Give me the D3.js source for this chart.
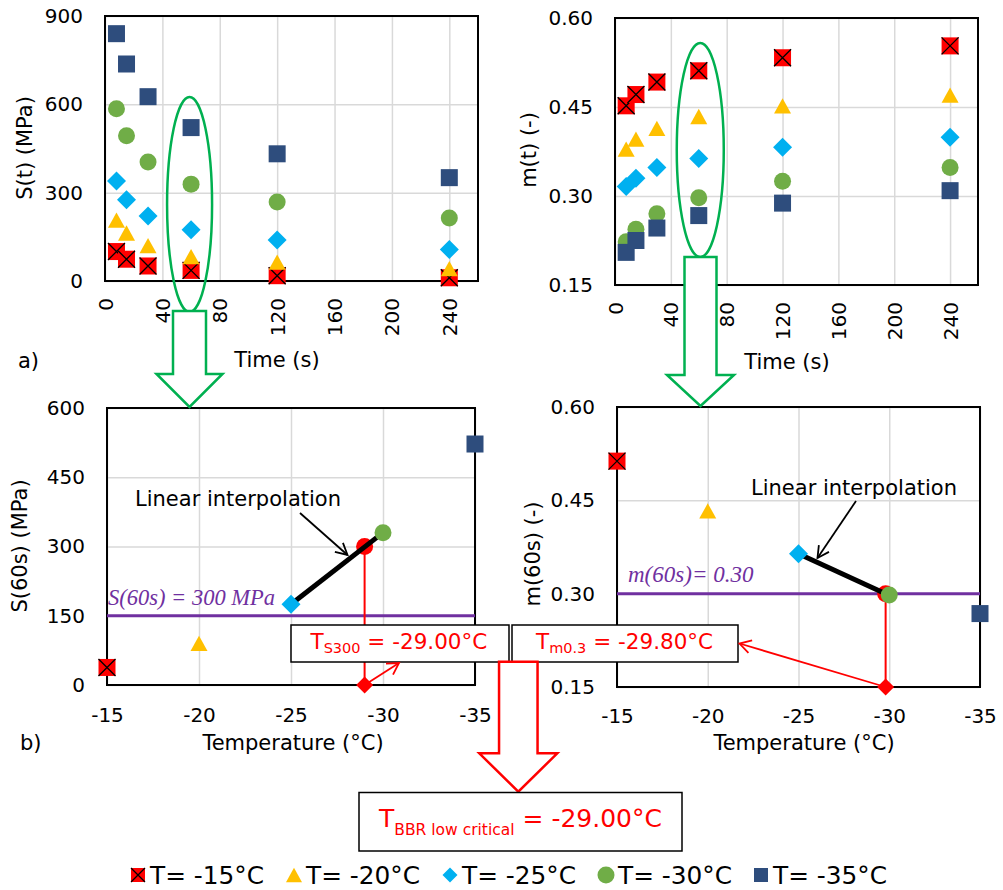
<!DOCTYPE html>
<html><head><meta charset="utf-8">
<script src="https://cdn.jsdelivr.net/npm/d3@7"></script>
<style>body{margin:0;background:#fff} svg{display:block}</style>
</head><body><svg id="c" width="1003" height="890" font-family="'DejaVu Sans',Verdana,sans-serif"></svg>
<script>
// ---------- data ----------
const times=[8,15,30,60,120,240];
const seriesNames=["T= -15°C","T= -20°C","T= -25°C","T= -30°C","T= -35°C"];
const temps=[-15,-20,-25,-30,-35];
const S_m15=[100,74,51,36,18,11];
const S_m20=[207,163,120,83,64,42];
const S_m25=[340,276,221,174,139,107];
const S_m30=[585,493,404,329,268,214];
const S_m35=[840,737,626,521,432,351];
const m_m15=[0.452,0.471,0.492,0.511,0.533,0.553];
const m_m20=[0.379,0.396,0.414,0.434,0.452,0.470];
const m_m25=[0.316,0.330,0.348,0.363,0.382,0.399];
const m_m30=[0.223,0.244,0.270,0.297,0.325,0.348];
const m_m35=[0.205,0.225,0.246,0.267,0.288,0.309];
const S60=[38,90,175,330,522];
const m60=[0.513,0.433,0.364,0.298,0.268];
const timeTicks=[0,40,80,120,160,200,240];
const sTicks=[0,300,600,900];
const mTicks=[0.15,0.30,0.45,0.60];
const s60Ticks=[0,150,300,450,600];
const tempTicks=[-15,-20,-25,-30,-35];
const TcritS=-29.00, TcritM=-29.80, Sref=300, SlineVal=150, mref=0.30;
const Sseries=[S_m15,S_m20,S_m25,S_m30,S_m35];
const mseries=[m_m15,m_m20,m_m25,m_m30,m_m35];
const types=["xsquare","triangle","diamond","circle","square"];
const colors=["#ff0000","#ffc000","#00b0f0","#70ad47","#2e4d7d"];

const svg=d3.select("#c");
const FONT="'DejaVu Sans',Verdana,sans-serif";
const SERIF="'Liberation Serif','DejaVu Serif',serif";
const intFmt=d=>String(d);            // hyphen-minus, as in the reference
const f2=d=>d.toFixed(2);

function marker(g,type,cx,cy,s,color){
  if(type==="square"||type==="xsquare"){
    g.append("rect").attr("x",cx-s/2).attr("y",cy-s/2).attr("width",s).attr("height",s).attr("fill",color);
    if(type==="xsquare"){
      g.append("path").attr("d",`M${cx-s/2},${cy-s/2}L${cx+s/2},${cy+s/2}M${cx+s/2},${cy-s/2}L${cx-s/2},${cy+s/2}`)
       .attr("stroke","#000").attr("stroke-width",1.3);
    }
  } else if(type==="triangle"){
    const h=s*0.9;
    g.append("path").attr("d",`M${cx},${cy-h/2}L${cx+s/2},${cy+h/2}L${cx-s/2},${cy+h/2}Z`).attr("fill",color);
  } else if(type==="diamond"){
    const d=s/2;
    g.append("path").attr("d",`M${cx},${cy-d}L${cx+d},${cy}L${cx},${cy+d}L${cx-d},${cy}Z`).attr("fill",color);
  } else {
    g.append("circle").attr("cx",cx).attr("cy",cy).attr("r",s/2).attr("fill",color);
  }
}
const msize={xsquare:17,square:17,triangle:17,diamond:19,circle:17};

function panel(o){
  const g=svg.append("g");
  const x=d3.scaleLinear().domain(o.xd).range([o.l,o.r]);
  const y=d3.scaleLinear().domain(o.yd).range([o.b,o.t]);
  g.append("g").attr("transform",`translate(0,${o.b})`)
    .call(d3.axisBottom(x).tickValues(o.xt).tickSize(-(o.b-o.t)).tickFormat(""))
    .call(a=>a.select(".domain").remove())
    .selectAll("line").attr("stroke","#d9d9d9").attr("stroke-width",1.5);
  g.append("g").attr("transform",`translate(${o.l},0)`)
    .call(d3.axisLeft(y).tickValues(o.yt).tickSize(-(o.r-o.l)).tickFormat(""))
    .call(a=>a.select(".domain").remove())
    .selectAll("line").attr("stroke","#d9d9d9").attr("stroke-width",1.5);
  g.append("rect").attr("x",o.l).attr("y",o.t).attr("width",o.r-o.l).attr("height",o.b-o.t)
    .attr("fill","none").attr("stroke","#000").attr("stroke-width",2);
  const ya=g.append("g").attr("transform",`translate(${o.l},0)`)
    .call(d3.axisLeft(y).tickValues(o.yt).tickSize(0).tickPadding(22).tickFormat(o.yf));
  ya.select(".domain").remove();
  ya.attr("font-family",FONT).attr("font-size",20);
  ya.selectAll("text").attr("fill","#000");
  const xa=g.append("g").attr("transform",`translate(0,${o.b})`)
    .call(d3.axisBottom(x).tickValues(o.xt).tickSize(0).tickFormat(o.xf));
  xa.select(".domain").remove();
  xa.attr("font-family",FONT).attr("font-size",20);
  xa.selectAll("text").attr("fill","#000");
  if(o.rot){
    xa.selectAll("text").attr("transform","rotate(-90)").attr("x",-17).attr("y",0).attr("dy","0.35em").attr("text-anchor","end");
  } else {
    xa.selectAll("text").attr("y",o.xlabY).attr("dy",0);
  }
  svg.append("text").attr("x",o.xtitle[0]).attr("y",o.xtitle[1]).attr("text-anchor","middle")
    .attr("font-size",21).text(o.xtitleText);
  svg.append("text").attr("transform",`translate(${o.ytitle[0]},${o.ytitle[1]}) rotate(-90)`)
    .attr("text-anchor","middle").attr("dy","0.35em").attr("font-size",21).text(o.ytitleText);
  return {g,x,y};
}

function arrowLine(x1,y1,x2,y2,color,w,hl=13,ang=28){
  const a=Math.atan2(y2-y1,x2-x1), r=ang*Math.PI/180;
  svg.append("path").attr("d",`M${x1},${y1}L${x2},${y2}`).attr("stroke",color).attr("stroke-width",w).attr("fill","none");
  svg.append("path").attr("d",`M${x2-hl*Math.cos(a-r)},${y2-hl*Math.sin(a-r)}L${x2},${y2}L${x2-hl*Math.cos(a+r)},${y2-hl*Math.sin(a+r)}`)
    .attr("stroke",color).attr("stroke-width",w).attr("fill","none");
}
function blockArrow(cx,top,sw,headY,hw,tip,color){
  const p=[[cx-sw/2,top],[cx+sw/2,top],[cx+sw/2,headY],[cx+hw/2,headY],[cx,tip],[cx-hw/2,headY],[cx-sw/2,headY]];
  svg.append("path").attr("d","M"+p.map(d=>d.join(",")).join("L")+"Z")
    .attr("fill","#fff").attr("stroke",color).attr("stroke-width",2.5).attr("stroke-linejoin","miter");
}

// ---------- top-left ----------
const TL=panel({l:105,r:478,t:16,b:281,xd:[0,260],yd:[0,900],xt:timeTicks,yt:sTicks,xf:intFmt,yf:intFmt,rot:true,
  xtitle:[277,367],xtitleText:"Time (s)",ytitle:[25,148],ytitleText:"S(t)  (MPa)"});
Sseries.forEach((s,i)=>s.forEach((v,j)=>marker(TL.g,types[i],TL.x(times[j]),TL.y(v),msize[types[i]],colors[i])));
// ---------- top-right ----------
const TR=panel({l:615,r:978,t:18,b:285,xd:[0,260],yd:[0.15,0.60],xt:timeTicks,yt:mTicks,xf:intFmt,yf:f2,rot:true,
  xtitle:[787,369],xtitleText:"Time (s)",ytitle:[529,150],ytitleText:"m(t) (-)"});
mseries.forEach((s,i)=>s.forEach((v,j)=>marker(TR.g,types[i],TR.x(times[j]),TR.y(v),msize[types[i]],colors[i])));

svg.append("ellipse").attr("cx",TL.x(60)-1.5).attr("cy",204.5).attr("rx",22.5).attr("ry",107.5)
  .attr("fill","none").attr("stroke","#00b050").attr("stroke-width",2.5);
svg.append("ellipse").attr("cx",TR.x(60)+1.5).attr("cy",150).attr("rx",23.5).attr("ry",107)
  .attr("fill","none").attr("stroke","#00b050").attr("stroke-width",2.5);

// ---------- bottom-left ----------
const BL=panel({l:107,r:475,t:408,b:685,xd:[-15,-35],yd:[0,600],xt:tempTicks,yt:s60Ticks,xf:intFmt,yf:intFmt,rot:false,xlabY:37,
  xtitle:[293,750],xtitleText:"Temperature (°C)",ytitle:[20,546],ytitleText:"S(60s)  (MPa)"});
// ---------- bottom-right ----------
const BR=panel({l:617,r:980,t:407,b:687,xd:[-15,-35],yd:[0.15,0.60],xt:tempTicks,yt:mTicks,xf:intFmt,yf:f2,rot:false,xlabY:36,
  xtitle:[804,750],xtitleText:"Temperature (°C)",ytitle:[533,554],ytitleText:"m(60s) (-)"});

BL.g.append("line").attr("x1",BL.x(-15)).attr("x2",BL.x(-35)).attr("y1",BL.y(SlineVal)).attr("y2",BL.y(SlineVal))
  .attr("stroke","#7030a0").attr("stroke-width",3);
BR.g.append("line").attr("x1",BR.x(-15)).attr("x2",BR.x(-35)).attr("y1",BR.y(mref)).attr("y2",BR.y(mref))
  .attr("stroke","#7030a0").attr("stroke-width",3);
svg.append("text").attr("x",108).attr("y",605).attr("font-family",SERIF).attr("font-style","italic")
  .attr("font-size",22.5).attr("fill","#7030a0").text(`S(60s) = ${Sref} MPa`);
svg.append("text").attr("x",628).attr("y",582).attr("font-family",SERIF).attr("font-style","italic")
  .attr("font-size",23).attr("fill","#7030a0").text(`m(60s)= ${mref.toFixed(2)}`);

BL.g.append("line").attr("x1",BL.x(TcritS)).attr("x2",BL.x(TcritS)).attr("y1",BL.y(Sref)).attr("y2",BL.y(0)).attr("stroke","#ff0000").attr("stroke-width",2);
BR.g.append("line").attr("x1",BR.x(TcritM)).attr("x2",BR.x(TcritM)).attr("y1",BR.y(mref)).attr("y2",BR.y(0.15)).attr("stroke","#ff0000").attr("stroke-width",2);

marker(BL.g,"circle",BL.x(TcritS),BL.y(Sref),17,"#ff0000");
marker(BR.g,"circle",BR.x(TcritM),BR.y(mref),17,"#ff0000");

BL.g.append("line").attr("x1",BL.x(temps[2])).attr("y1",BL.y(S60[2])).attr("x2",BL.x(temps[3])).attr("y2",BL.y(S60[3]))
  .attr("stroke","#000").attr("stroke-width",5);
BR.g.append("line").attr("x1",BR.x(temps[2])).attr("y1",BR.y(m60[2])).attr("x2",BR.x(TcritM)).attr("y2",BR.y(mref))
  .attr("stroke","#000").attr("stroke-width",5);

temps.forEach((t,i)=>{
  marker(BL.g,types[i],BL.x(t),BL.y(S60[i]),msize[types[i]],colors[i]);
  marker(BR.g,types[i],BR.x(t),BR.y(m60[i]),msize[types[i]],colors[i]);
});

marker(BL.g,"diamond",BL.x(TcritS),BL.y(0),17,"#ff0000");
marker(BR.g,"diamond",BR.x(TcritM),BR.y(0.15),17,"#ff0000");

svg.append("text").attr("x",135).attr("y",506).attr("font-size",21).text("Linear interpolation");
svg.append("text").attr("x",751).attr("y",495).attr("font-size",21).text("Linear interpolation");
arrowLine(300,513,347.5,555,"#000",1.8,13,28);
arrowLine(856,501,817.5,558,"#000",1.8,13,28);

blockArrow(189.5,311,33,374,66,407,"#00b050");
blockArrow(700.5,257,32,375,67,406,"#00b050");

function resBox(x,y,w,h){
  svg.append("rect").attr("x",x).attr("y",y).attr("width",w).attr("height",h).attr("fill","#fff").attr("stroke","#000").attr("stroke-width",1.5);
}
resBox(291,625,218,37);
resBox(512,625,226,37);
const t1=svg.append("text").attr("x",310.5).attr("y",648.5).attr("fill","#ff0000").attr("font-size",21.5);
t1.append("tspan").text("T");
t1.append("tspan").attr("font-size",14.5).attr("dy",4.5).text("S300");
t1.append("tspan").attr("dy",-4.5).text(` = ${TcritS.toFixed(2)}°C`);
const t2=svg.append("text").attr("x",536).attr("y",648.5).attr("fill","#ff0000").attr("font-size",21.5);
t2.append("tspan").text("T");
t2.append("tspan").attr("font-size",14.5).attr("dy",4.5).text("m0.3");
t2.append("tspan").attr("dy",-4.5).text(` = ${TcritM.toFixed(2)}°C`);

arrowLine(BL.x(TcritS),BL.y(0),399,663,"#ff0000",1.8,13,30);
arrowLine(BR.x(TcritM),BR.y(0.15),739.5,643.5,"#ff0000",1.8,13,30);

blockArrow(518.3,661.7,38.5,753.3,78,791.7,"#ff0000");

resBox(359,792.5,323,58.5);
const t3=svg.append("text").attr("x",379).attr("y",827).attr("fill","#ff0000").attr("font-size",25);
t3.append("tspan").text("T");
t3.append("tspan").attr("font-size",15.5).attr("dy",8).text("BBR low critical");
t3.append("tspan").attr("dy",-8).text(` = ${Math.max(TcritS,TcritM).toFixed(2)}°C`);

svg.append("text").attr("x",18).attr("y",368).attr("font-size",21).text("a)");
svg.append("text").attr("x",20).attr("y",750).attr("font-size",21).text("b)");

const legX=[138,294,450,606,761];
const legS={xsquare:14,square:14,triangle:16,diamond:15,circle:17};
seriesNames.forEach((n,i)=>{
  marker(svg,types[i],legX[i],875,legS[types[i]],colors[i]);
  svg.append("text").attr("x",legX[i]+12).attr("y",884).attr("font-size",24.8).text(n);
});
</script></body></html>
